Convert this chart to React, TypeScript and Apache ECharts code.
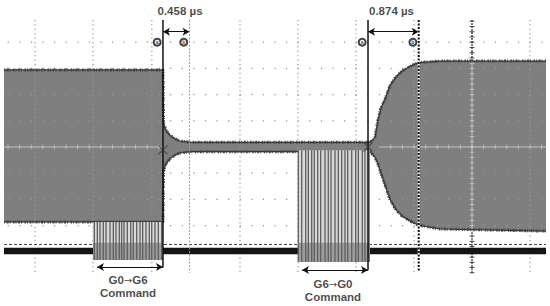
import React, { useEffect, useRef } from 'react';
import * as echarts from 'echarts';

// Horizontal axis: time in µs (about 1 µs per division). Vertical axis: screen divisions.
// RF envelope (upper / lower edge of the modulated carrier)
const envX = [-0.069, 2.672, 2.681, 2.724, 2.793, 2.879, 2.966, 3.138, 6.241, 6.293, 6.328, 6.379, 6.431, 6.5, 6.586, 6.69, 6.793, 6.931, 7.069, 7.448, 9.276];
const envUpper = [2.94, 2.94, 0.92, 0.63, 0.45, 0.31, 0.23, 0.18, 0.18, 0.28, 0.38, 1.03, 1.5, 1.82, 2.35, 2.68, 2.9, 3.08, 3.22, 3.28, 3.28];
const envLower = [-2.86, -2.86, -0.92, -0.63, -0.45, -0.31, -0.23, -0.18, -0.18, -0.3, -0.4, -0.65, -1.0, -1.45, -2.0, -2.4, -2.63, -2.82, -2.98, -3.13, -3.21];

// Command (control) trace
const traceSpan = [-0.069, 9.276];
const traceLevel = -3.97;
const trigLevel = -3.72;

// Command bursts
const burstStart = [1.466, 5.0];
const burstEnd = [2.672, 6.241];
const burstTop = [-2.86, -0.12];
const burstBottom = [-4.31, -4.39];
const burstDense = -3.65;
const burstStripes1 = [1.488, 1.54, 1.586, 1.643, 1.69, 1.759, 1.816, 1.862, 1.919, 1.96, 2.0, 2.057, 2.116, 2.16, 2.219, 2.276, 2.322, 2.379, 2.436, 2.478, 2.534, 2.591, 2.65];
const burstStripes2 = [5.005, 5.064, 5.133, 5.178, 5.236, 5.281, 5.339, 5.391, 5.466, 5.522, 5.569, 5.638, 5.695, 5.753, 5.81, 5.857, 5.926, 5.995, 6.04, 6.109, 6.155, 6.224];

// Cursors and measured deltas
const cursorA = [2.672, 6.207];
const cursorDelta = [0.458, 0.874];
const cursorLabelX = [2.966, 6.612];
const cursorLabels = cursorDelta.map((d) => `${d.toFixed(3)} µs`);

// Command annotations
const cmdStart = [1.534, 5.069];
const cmdEnd = [2.672, 6.207];
const cmdArrowY = [-4.58, -4.69];
const cmdLabelX = [2.069, 5.603];
const cmdLabelY = [-5.34, -5.48];
const cmdFrom = ['G0', 'G6'];
const cmdTo = ['G6', 'G0'];

// Graticule
const gridCols = [0.466, 1.466, 2.48, 4, 5, 6, 7, 9];
const gridRows = [4, 3, 2, 1, -1, -2, -3];
const centerCol = 8;

const X_MIN = -8 / 58;
const X_MAX = 542 / 58;
const Y_MAX = 147 / 26.2;
const Y_MIN = -(306 - 147) / 26.2;
const FONT = '"Liberation Sans", Arial, Helvetica, sans-serif';

const cursorB = cursorA.map((a, i) => +(a + cursorDelta[i]).toFixed(3));

function seg(pts: number[][], lineStyle: any, z: number, extra: any = {}) {
  return { type: 'line', data: pts, symbol: 'none', silent: true, lineStyle, z, ...extra };
}

export default function App() {
  const ref = useRef<HTMLDivElement>(null);
  useEffect(() => {
    document.body.style.margin = '0';
    if (!ref.current) return;
    const chart = echarts.init(ref.current, undefined, { renderer: 'svg' });

    const hTicks: number[][] = [];
    for (let k = 0; k <= 46; k++) {
      const x = k * 0.2;
      if (x < 2.66 || x > 6.4) hTicks.push([x, 0]);
    }
    const vTicksDark: number[][] = [];
    const vTicksLight: number[][] = [];
    for (let k = -24; k <= 24; k++) {
      const y = k * 0.2;
      if (y > 3.3 || y < -3.25) vTicksDark.push([centerCol, y]);
      else vTicksLight.push([centerCol, y]);
    }

    const upperPts = envX.map((x, i) => [x, envUpper[i]]);
    const lowerPts = envX.map((x, i) => [x, envLower[i]]);

    const series: any[] = [];

    // envelope fill
    series.push({
      type: 'custom',
      silent: true,
      z: 2,
      data: [[0, 0]],
      renderItem: (_p: any, api: any) => {
        const pts: number[][] = [];
        for (let i = 0; i < envX.length; i++) pts.push(api.coord([envX[i], envUpper[i]]));
        for (let i = envX.length - 1; i >= 0; i--) pts.push(api.coord([envX[i], envLower[i]]));
        return { type: 'polygon', shape: { points: pts }, style: { fill: '#7f7f7f' } };
      },
    });

    // graticule
    gridRows.forEach((r) =>
      series.push(seg([[traceSpan[0], r], [traceSpan[1], r]], { color: '#979797', width: 1.3, type: [1.3, 10.3], dashOffset: 7.6 }, 3))
    );
    gridCols.forEach((c) =>
      series.push(seg([[c, 4.85], [c, -4.8]], { color: '#979797', width: 1.2, type: [1.2, 3.2] }, 3))
    );
    // center horizontal line (light, over the envelope)
    series.push(seg([[traceSpan[0], 0], [2.672, 0]], { color: '#c6c6c6', width: 1 }, 3));
    series.push(seg([[6.4, 0], [traceSpan[1], 0]], { color: '#c6c6c6', width: 1 }, 3));
    series.push({ type: 'scatter', data: hTicks, symbol: 'rect', symbolSize: [1, 5], itemStyle: { color: '#c6c6c6' }, silent: true, z: 3 });
    // center vertical line
    series.push(seg([[centerCol, 4.85], [centerCol, 3.3]], { color: '#222', width: 1.2, type: [2, 1] }, 3));
    series.push(seg([[centerCol, 3.3], [centerCol, -3.25]], { color: '#c6c6c6', width: 1 }, 3));
    series.push(seg([[centerCol, -3.25], [centerCol, -4.8]], { color: '#222', width: 1.2, type: [2, 1] }, 3));
    series.push({ type: 'scatter', data: vTicksDark, symbol: 'rect', symbolSize: [5, 1], itemStyle: { color: '#222' }, silent: true, z: 3 });
    series.push({ type: 'scatter', data: vTicksLight, symbol: 'rect', symbolSize: [5, 1], itemStyle: { color: '#c6c6c6' }, silent: true, z: 3 });

    // noisy envelope edges
    [upperPts, lowerPts].forEach((pts) => {
      series.push(seg(pts, { color: '#2e2e2e', width: 1.2 }, 4));
      series.push(seg(pts, { color: '#444', width: 3, type: [1, 1.5, 2, 1, 1, 2.5, 1.5, 1] }, 4));
    });

    // trigger level & command trace, with annotation arrows
    series.push(seg([[traceSpan[0], trigLevel], [traceSpan[1], trigLevel]], { color: '#444', width: 1, type: [3, 2] }, 4));
    series.push(
      seg([[traceSpan[0], traceLevel], [traceSpan[1], traceLevel]], { color: '#141414', width: 6.5 }, 4, {
        markLine: {
          silent: true,
          symbol: ['arrow', 'arrow'],
          symbolSize: [6, 7],
          label: { show: false },
          lineStyle: { color: '#111', width: 1, type: 'solid' },
          data: [
            ...cursorA.map((a, i) => [{ coord: [a, 4.4] }, { coord: [cursorB[i], 4.4] }]),
            ...cmdStart.map((s, i) => [{ coord: [s, cmdArrowY[i]] }, { coord: [cmdEnd[i], cmdArrowY[i]] }]),
          ],
        },
      })
    );

    // bursts
    series.push({
      type: 'custom',
      silent: true,
      z: 5,
      data: burstStart.map((s, i) => [s, burstEnd[i], burstTop[i], burstBottom[i]]),
      renderItem: (_p: any, api: any) => {
        const tl = api.coord([api.value(0), api.value(2)]);
        const br = api.coord([api.value(1), api.value(3)]);
        const mid = api.coord([api.value(0), burstDense]);
        return {
          type: 'group',
          children: [
            { type: 'rect', shape: { x: tl[0], y: tl[1], width: br[0] - tl[0], height: br[1] - tl[1] }, style: { fill: '#d8d8d8' } },
            { type: 'rect', shape: { x: tl[0], y: mid[1], width: br[0] - tl[0], height: br[1] - mid[1] }, style: { fill: 'rgba(50,50,50,0.35)' } },
          ],
        };
      },
    });
    const stripeData = [
      ...burstStripes1.map((x) => [x, burstTop[0], burstBottom[0]]),
      ...burstStripes2.map((x) => [x, burstTop[1], burstBottom[1]]),
    ];
    series.push({
      type: 'custom',
      silent: true,
      z: 6,
      data: stripeData,
      renderItem: (_p: any, api: any) => {
        const a = api.coord([api.value(0), api.value(1)]);
        const b = api.coord([api.value(0), api.value(2)]);
        return { type: 'line', shape: { x1: a[0], y1: a[1], x2: b[0], y2: b[1] }, style: { stroke: '#5e5e5e', lineWidth: 1.3 } };
      },
    });

    // cursors
    series.push(seg([[cursorA[0], 4.85], [cursorA[0], -4.6]], { color: '#111', width: 1.5 }, 7));
    series.push(seg([[cursorA[1], 4.85], [cursorA[1], -4.7]], { color: '#111', width: 1.5 }, 7));
    series.push(seg([[cursorB[0], 4.85], [cursorB[0], -4.8]], { color: '#9a9a9a', width: 1, type: [2, 1.5] }, 7));
    series.push(seg([[cursorB[1], 4.85], [cursorB[1], -4.77]], { color: '#ffffff', width: 2 }, 7));
    series.push(seg([[cursorB[1], 4.85], [cursorB[1], -4.77]], { color: '#111', width: 2, type: [2, 1.5] }, 7));

    // cursor markers a / b
    const markerData: any[] = [];
    cursorA.forEach((a, i) => {
      markerData.push({ value: [a - 0.1, 4.0], name: 'a' });
      markerData.push({ value: [cursorB[i] - 0.1, 4.0], name: 'b' });
    });
    series.push({
      type: 'scatter',
      silent: true,
      z: 8,
      data: markerData,
      symbol: 'circle',
      symbolSize: 7,
      itemStyle: { color: '#ffffff', borderColor: '#111', borderWidth: 2 },
      label: { show: true, position: 'inside', formatter: '{b}', fontSize: 5, fontWeight: 'bold', color: '#111', fontFamily: FONT },
    });
    // cursor crossing marks
    series.push({
      type: 'scatter',
      silent: true,
      z: 8,
      data: [[cursorA[0], -0.11], [cursorA[1], 0]],
      symbol: 'path://M0,0L10,10M10,0L0,10',
      symbolSize: 9,
      itemStyle: { color: 'none', borderColor: '#3a3a3a', borderWidth: 1.1 },
    });

    const textStyle = { fontSize: 11.5, fontWeight: 'bold', color: '#1a1a1a', fontFamily: FONT, lineHeight: 13 };
    // delta labels
    series.push({
      type: 'scatter',
      silent: true,
      z: 9,
      symbolSize: 0,
      data: cursorLabels.map((t, i) => ({ value: [cursorLabelX[i], 5.19], name: t })),
      label: { show: true, position: 'inside', formatter: '{b}', ...textStyle },
    });
    // command labels
    series.push({
      type: 'scatter',
      silent: true,
      z: 9,
      symbolSize: 0,
      data: cmdFrom.map((f, i) => ({ value: [cmdLabelX[i], cmdLabelY[i]], name: `{t|${f}}{r|→}{t|${cmdTo[i]}}\n{t|Command}` })),
      label: {
        show: true,
        position: 'inside',
        formatter: '{b}',
        align: 'center',
        ...textStyle,
        rich: {
          t: { ...textStyle },
          r: { ...textStyle, fontFamily: '"DejaVu Sans", sans-serif', fontSize: 10, fontWeight: 'normal' },
        },
      },
    });

    chart.setOption({
      animation: false,
      backgroundColor: '#ffffff',
      grid: { left: 0, right: 0, top: 0, bottom: 0 },
      xAxis: { type: 'value', min: X_MIN, max: X_MAX, show: false },
      yAxis: { type: 'value', min: Y_MIN, max: Y_MAX, show: false },
      series,
    });
    return () => chart.dispose();
  }, []);
  return <div ref={ref} style={{ width: 550, height: 306 }} />;
}
